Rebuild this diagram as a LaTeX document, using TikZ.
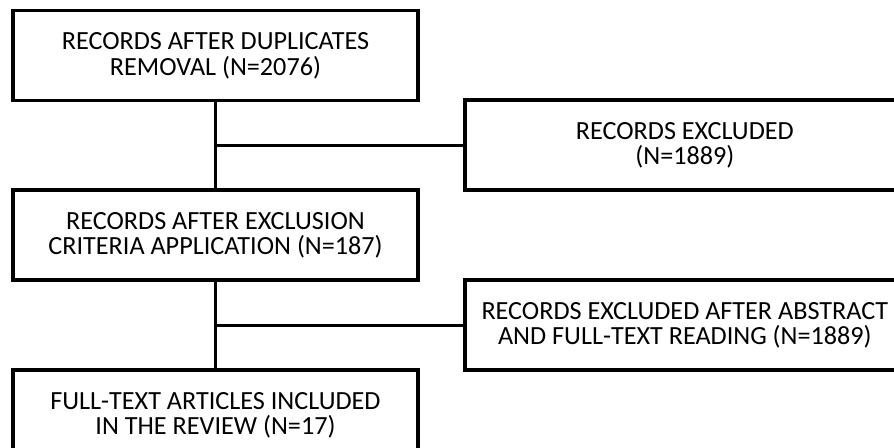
\documentclass[tikz,border=0pt]{standalone}
\usepackage{fontspec}
\setmainfont{Carlito}
\usetikzlibrary{positioning,calc}

\begin{document}
\begin{tikzpicture}[node distance=1.72cm,font=\fontsize{14.9pt}{14.6pt}\selectfont,link/.style={draw=black,line width=2pt},stage/.style={rectangle,draw=black,line width=2.2pt,fill=white,minimum width=8.1cm,minimum height=1.8cm,align=center,inner sep=0pt},side/.style={stage,minimum width=8.8cm,anchor=west}]
\clip (0,0) rectangle (17.88,-8.96);
\fill[white] (0,0) rectangle (17.88,-8.96);
\node[stage] (dedup) at (4.31,-1.11) {RECORDS AFTER DUPLICATES\\REMOVAL (N=2076)};
\node[stage,below=of dedup] (criteria) {RECORDS AFTER EXCLUSION\\CRITERIA APPLICATION (N=187)};
\node[stage,below=of criteria] (included) {FULL-TEXT ARTICLES INCLUDED\\IN THE REVIEW (N=17)};
\node[side] (excl1) at ($($(dedup.east)!0.5!(criteria.east)$)+(0.86,0)$) {RECORDS EXCLUDED\\(N=1889)};
\node[side] (excl2) at ($($(criteria.east)!0.5!(included.east)$)+(0.86,0)$) {RECORDS EXCLUDED AFTER ABSTRACT\\AND FULL-TEXT READING (N=1889)};
% branch points on the trunk
\coordinate (j1) at (dedup.south |- excl1.west);
\coordinate (j2) at (criteria.south |- excl2.west);
\draw[link] (dedup)--(criteria)--(included);
\draw[link] (j1)--(excl1.west);
\draw[link] (j2)--(excl2.west);
\end{tikzpicture}
\end{document}
